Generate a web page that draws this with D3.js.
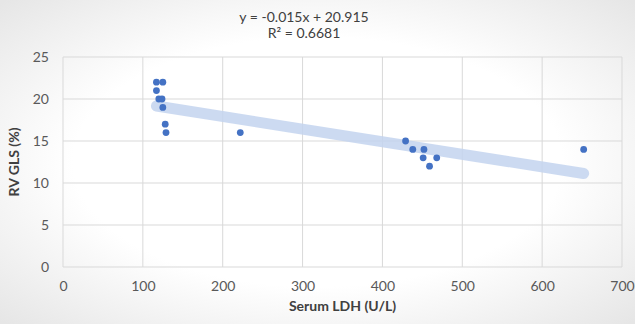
<!DOCTYPE html>
<html>
<head>
<meta charset="utf-8">
<script src="https://cdn.jsdelivr.net/npm/d3@7"></script>
<style>
  body { margin: 0; background: #fff; }
  text { font-family: Lato, "Open Sans", sans-serif; }
</style>
</head>
<body>
<div id="chart"></div>
<script>
// data
const ldh = [117, 125, 117, 120, 124, 125, 128, 129, 222, 429, 438, 452, 451, 468, 459, 652]
const gls = [22, 22, 21, 20, 20, 19, 17, 16, 16, 15, 14, 14, 13, 13, 12, 14]
const xTicks = [0, 100, 200, 300, 400, 500, 600, 700]
const yTicks = [0, 5, 10, 15, 20, 25]
const trendCoef = [-0.015, 20.915]
const trendLabels = ["y = -0.015x + 20.915", "R\u00b2 = 0.6681"]

const points = ldh.map((d, i) => ({ x: d, y: gls[i] }))

const W = 635, H = 324
const margin = { top: 57, right: 13, bottom: 57, left: 63 }
const width = W - margin.left - margin.right
const height = H - margin.top - margin.bottom

const svg = d3.select("#chart")
  .append("svg")
  .attr("width", W)
  .attr("height", H)

// soft grey vignette like the original screenshot
const grad = svg.append("defs").append("radialGradient")
  .attr("id", "bg")
  .attr("cx", "50%").attr("cy", "50%").attr("r", "70%")
grad.append("stop").attr("offset", "55%").attr("stop-color", "#ffffff")
grad.append("stop").attr("offset", "100%").attr("stop-color", "#e6e6e6")
svg.append("rect").attr("width", W).attr("height", H).attr("fill", "url(#bg)")

const g = svg.append("g")
  .attr("transform", "translate(" + margin.left + "," + margin.top + ")")

let x = d3.scaleLinear().domain([0, 700]).range([0, width])
let y = d3.scaleLinear().domain([0, 25]).range([height, 0])

// gridlines
g.selectAll(".hgrid")
  .data(yTicks)
  .enter().append("line")
  .attr("class", "hgrid")
  .attr("x1", 0).attr("x2", width)
  .attr("y1", d => y(d)).attr("y2", d => y(d))
  .attr("stroke", "#d9d9d9")
  .attr("stroke-width", 1)

g.selectAll(".vgrid")
  .data(xTicks)
  .enter().append("line")
  .attr("class", "vgrid")
  .attr("y1", 0).attr("y2", height)
  .attr("x1", d => x(d)).attr("x2", d => x(d))
  .attr("stroke", "#d9d9d9")
  .attr("stroke-width", 1)

// axes (labels only)
let xAxis = d3.axisBottom(x).tickValues(xTicks).tickSize(0).tickPadding(14)
let yAxis = d3.axisLeft(y).tickValues(yTicks).tickSize(0).tickPadding(14)

g.append("g")
  .attr("transform", "translate(0," + height + ")")
  .call(xAxis)
  .call(a => a.select(".domain").remove())
  .selectAll("text")
  .attr("fill", "#595959")
  .style("font-size", "14px")

g.append("g")
  .call(yAxis)
  .call(a => a.select(".domain").remove())
  .selectAll("text")
  .attr("fill", "#595959")
  .style("font-size", "14px")

// trendline
const xr = d3.extent(ldh)
g.append("line")
  .attr("x1", x(xr[0])).attr("x2", x(xr[1]))
  .attr("y1", y(trendCoef[0] * xr[0] + trendCoef[1]))
  .attr("y2", y(trendCoef[0] * xr[1] + trendCoef[1]))
  .attr("stroke", "#c3d4ee")
  .attr("stroke-opacity", 0.85)
  .attr("stroke-width", 11)
  .attr("stroke-linecap", "round")

// dots
g.selectAll(".dot")
  .data(points)
  .enter().append("circle")
  .attr("class", "dot")
  .attr("cx", d => x(d.x))
  .attr("cy", d => y(d.y))
  .attr("r", 3.4)
  .attr("fill", "#4472c4")

// equation
svg.selectAll(".eq")
  .data(trendLabels)
  .enter().append("text")
  .attr("class", "eq")
  .attr("x", 304)
  .attr("y", (d, i) => 22 + i * 16)
  .attr("text-anchor", "middle")
  .attr("fill", "#404040")
  .style("font-size", "14px")
  .text(d => d)

// axis titles
svg.append("text")
  .attr("x", margin.left + width / 2)
  .attr("y", 311)
  .attr("text-anchor", "middle")
  .attr("fill", "#404040")
  .style("font-size", "14px")
  .style("font-weight", "bold")
  .text("Serum LDH (U/L)")

svg.append("text")
  .attr("transform", "translate(19," + (margin.top + height / 2) + ") rotate(-90)")
  .attr("text-anchor", "middle")
  .attr("fill", "#404040")
  .style("font-size", "14px")
  .style("font-weight", "bold")
  .text("RV GLS (%)")
</script>
</body>
</html>
